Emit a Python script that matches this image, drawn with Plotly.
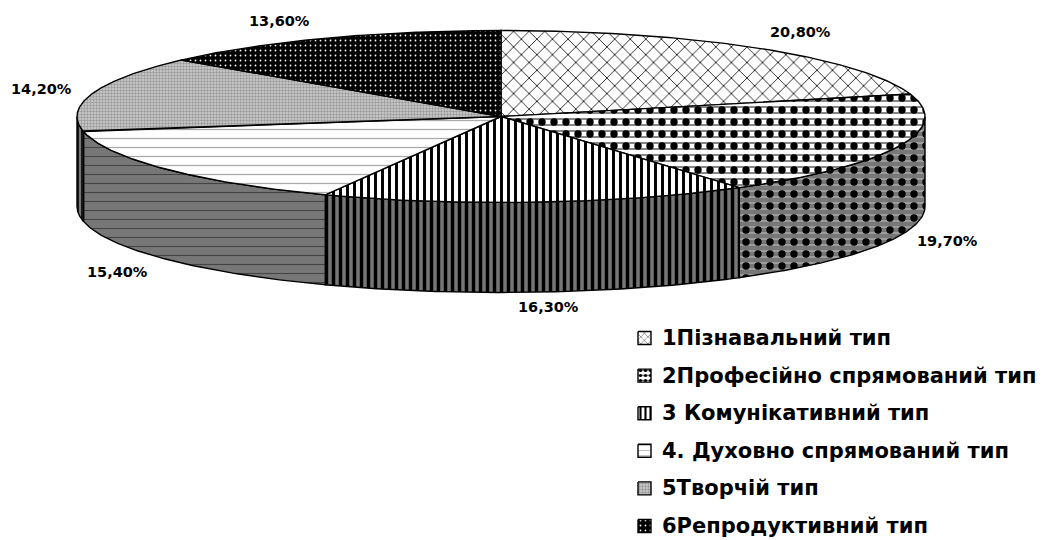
import numpy as np
import plotly.graph_objects as go

categories = ["1Пізнавальний тип", "2Професійно спрямований тип", "3 Комунікативний тип",
              "4. Духовно спрямований тип", "5Творчій тип", "6Репродуктивний тип"]
values = [20.8, 19.7, 16.3, 15.4, 14.2, 13.6]
value_labels = ["20,80%", "19,70%", "16,30%", "15,40%", "14,20%", "13,60%"]

CX, CY, RX, RY, DEPTH = 501, 116.5, 424, 86, 90
LABEL_XY = [(800, 32), (947, 241), (548, 307), (117, 272), (41, 89), (279, 21)]
LEG_X, LEG_Y0, LEG_DY, LEG_S = 638, 338, 37.6, 13
PAGE_MARGIN = 8  # the page body's default margin
LW = 1.4
GREY = "#777777"
CLEAR = "rgba(0,0,0,0)"

# per-slice list of pattern layers: (shape, fg, bg, size, solidity)
TOP_STYLE = [
    [("x", "#000000", "#ffffff", 11, 0.14)],
    [("-", "#777777", "#ffffff", 6, 0.3), (".", "#000000", CLEAR, 12, 0.3)],
    [("|", "#000000", "#ffffff", 7, 0.42)],
    [("-", "#aaaaaa", "#ffffff", 9, 0.14)],
    [(".", "#999999", "#d0d0d0", 3, 0.5)],
    [(".", "#ffffff", "#000000", 5, 0.1)],
]
SIDE_STYLE = [
    [],
    [("-", "#aaaaaa", GREY, 6, 0.25), (".", "#000000", CLEAR, 12, 0.3)],
    [("|", "#000000", GREY, 7, 0.5)],
    [("-", "#444444", GREY, 9, 0.12)],
    [("|", "#000000", GREY, 4, 0.4)],
    [],
]


def pt(a, dz=0.0):
    return CX + RX * np.sin(a), CY - RY * np.cos(a) + dz


def add_poly(fig, xs, ys, layers, name):
    for i, (shape, fg, bg, size, sol) in enumerate(layers):
        last = i == len(layers) - 1
        fig.add_trace(go.Scatter(
            x=list(xs), y=list(ys), mode="lines", fill="toself", name=name, hoverinfo="skip",
            line=dict(color="#000000" if last else CLEAR, width=LW),
            fillcolor=bg,
            fillpattern=dict(shape=shape, fgcolor=fg, bgcolor=bg, size=size, solidity=sol, fillmode="replace"),
            showlegend=False,
        ))


fig = go.Figure()
edges = np.radians(np.concatenate([[0], np.cumsum(values)]) / 100 * 360)

# side walls (front half of the rim only)
for k in range(len(values)):
    a0, a1 = max(edges[k], np.pi / 2), min(edges[k + 1], 3 * np.pi / 2)
    if a1 <= a0 or not SIDE_STYLE[k]:
        continue
    t = np.linspace(a0, a1, 80)
    xt, yt = pt(t)
    xb, yb = pt(t[::-1], DEPTH)
    add_poly(fig, np.r_[xt, xb, xt[0]], np.r_[yt, yb, yt[0]], SIDE_STYLE[k], categories[k])

# top wedges
for k in range(len(values)):
    t = np.linspace(edges[k], edges[k + 1], 120)
    xt, yt = pt(t)
    add_poly(fig, np.r_[CX, xt, CX], np.r_[CY, yt, CY], TOP_STYLE[k], categories[k])

annotations = []
for lab, (x, y) in zip(value_labels, LABEL_XY):
    annotations.append(dict(x=x, y=y, text=lab, showarrow=False, xanchor="center", yanchor="middle",
                            font=dict(family="DejaVu Sans", size=14.5, color="#000000", weight="bold")))

# legend column
for k, name in enumerate(categories):
    yc = LEG_Y0 + k * LEG_DY
    sx = [LEG_X, LEG_X + LEG_S, LEG_X + LEG_S, LEG_X, LEG_X]
    sy = [yc - LEG_S / 2, yc - LEG_S / 2, yc + LEG_S / 2, yc + LEG_S / 2, yc - LEG_S / 2]
    swatch = []
    for shape, fg, bg, size, sol in TOP_STYLE[k]:
        swatch.append((shape, fg, bg, max(3, min(size, 5)), sol))
    add_poly(fig, sx, sy, swatch, name)
    annotations.append(dict(x=660, y=yc, text=name, showarrow=False, xanchor="left", yanchor="middle",
                            font=dict(family="DejaVu Sans", size=21, color="#000000", weight="bold")))

fig.update_layout(
    width=1063 - PAGE_MARGIN, height=540 - PAGE_MARGIN, autosize=False,
    margin=dict(l=0, r=0, t=0, b=0),
    paper_bgcolor="#ffffff", plot_bgcolor="#ffffff",
    showlegend=False, annotations=annotations,
    xaxis=dict(range=[PAGE_MARGIN, 1063], visible=False, fixedrange=True),
    yaxis=dict(range=[540, PAGE_MARGIN], visible=False, fixedrange=True),
)
fig.write_html("out.html", config=dict(displayModeBar=False))
